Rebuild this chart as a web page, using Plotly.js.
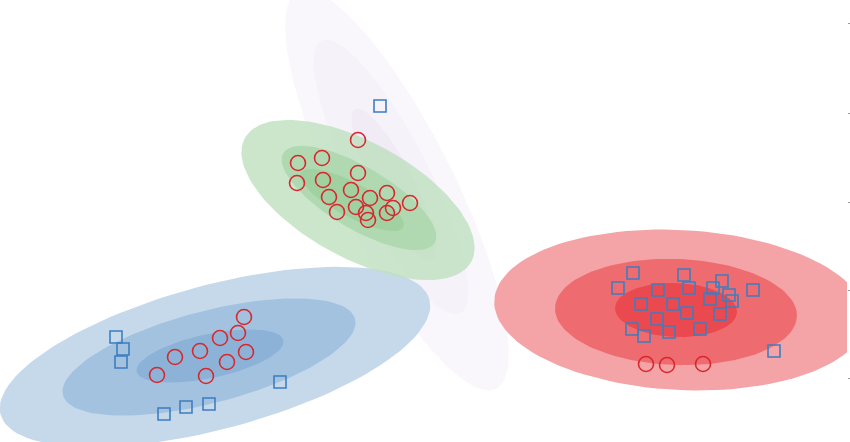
<!DOCTYPE html>
<html>
<head>
<meta charset="utf-8">
<script src="https://cdn.plot.ly/plotly-3.0.1.min.js"></script>
<style>html,body{margin:0;padding:0;background:#fff;}#chart{width:850px;height:442px;}</style>
</head>
<body>
<div id="chart"></div>
<script>
// Ellipse groups (centre x, centre y, semi-major, semi-minor, angle deg) per level: outer, middle, inner
const purpleCx = [397, 391, 394];
const purpleCy = [190, 177, 185];
const purpleA  = [222, 153, 85];
const purpleB  = [58, 38, 20];
const purpleAng = [63.5, 63, 63];

const blueCx = [215, 209, 210];
const blueCy = [357, 357, 356];
const blueA  = [222, 151, 75];
const blueB  = [72, 46, 22];
const blueAng = [-15, -14.6, -12];

const greenCx = [358, 359, 352];
const greenCy = [200, 198, 200];
const greenA  = [129, 88, 58];
const greenB  = [58, 31, 17];
const greenAng = [28.6, 30.6, 28];

const redCx = [680, 676, 676];
const redCy = [310, 312, 310];
const redA  = [186, 121, 61];
const redB  = [80, 53, 27];
const redAng = [3, 2, 2];

// Red circle points
const circleX = [244,238,220,200,175,157,206,227,246,
  358,298,322,297,323,358,351,329,337,370,387,410,356,366,368,387,393,
  646,667,703];
const circleY = [317,333,338,351,357,375,376,362,352,
  140,163,158,183,180,173,190,197,212,198,193,203,207,213,220,213,208,
  364,365,364];

// Blue square points
const squareX = [116,123,121,164,186,209,280,
  380,
  633,618,658,684,689,713,722,753,729,732,710,641,673,687,720,657,632,644,669,700,774];
const squareY = [337,349,362,414,407,404,382,
  106,
  273,288,290,275,288,288,281,290,295,301,299,304,304,313,314,319,329,336,332,329,351];

const tickPositions = [23, 113, 202, 290, 378];

function ellipse(cx, cy, a, b, angDeg) {
  const n = 120, xs = [], ys = [];
  const t = angDeg * Math.PI / 180;
  for (let i = 0; i <= n; i++) {
    const u = 2 * Math.PI * i / n;
    const ex = a * Math.cos(u), ey = b * Math.sin(u);
    xs.push(cx + ex * Math.cos(t) - ey * Math.sin(t));
    ys.push(cy + ex * Math.sin(t) + ey * Math.cos(t));
  }
  return {xs, ys};
}

const traces = [];
function addGroup(cx, cy, A, B, ang, colors) {
  for (let i = 0; i < cx.length; i++) {
    const e = ellipse(cx[i], cy[i], A[i], B[i], ang[i]);
    traces.push({x: e.xs, y: e.ys, type: 'scatter', mode: 'lines', fill: 'toself',
      fillcolor: colors[i], line: {width: 0, color: colors[i]}, hoverinfo: 'skip', showlegend: false});
  }
}
addGroup(purpleCx, purpleCy, purpleA, purpleB, purpleAng, ['#faf7fc', '#f6f2f9', '#f1ebf5']);
addGroup(blueCx, blueCy, blueA, blueB, blueAng, ['#c6d9eb', '#a3c2df', '#8cb3d7']);
addGroup(greenCx, greenCy, greenA, greenB, greenAng, ['rgba(190,224,190,0.8)', '#b1d9b1', '#a1d0a1']);
addGroup(redCx, redCy, redA, redB, redAng, ['#f4a3a6', '#ee6b6f', '#ea4a4f']);

traces.push({x: circleX, y: circleY, type: 'scatter', mode: 'markers', showlegend: false,
  marker: {symbol: 'circle-open', size: 15, color: '#d8282e', line: {width: 1.6, color: '#d8282e'}}});
traces.push({x: squareX, y: squareY, type: 'scatter', mode: 'markers', showlegend: false,
  marker: {symbol: 'square-open', size: 12, color: '#3d7ec0', line: {width: 1.6, color: '#3d7ec0'}}});

const layout = {
  width: 850, height: 442,
  margin: {l: 0, r: 3, t: 0, b: 0, pad: 0},
  paper_bgcolor: '#ffffff', plot_bgcolor: '#ffffff',
  showlegend: false,
  xaxis: {range: [0, 847], visible: false, fixedrange: true},
  yaxis: {range: [442, 0], side: 'right', showgrid: false, zeroline: false, showline: false,
    showticklabels: false, ticks: 'outside', ticklen: 3, tickwidth: 1, tickcolor: '#999999',
    tickmode: 'array', tickvals: tickPositions, fixedrange: true}
};

Plotly.newPlot('chart', traces, layout, {displayModeBar: false, staticPlot: true});
</script>
</body>
</html>
